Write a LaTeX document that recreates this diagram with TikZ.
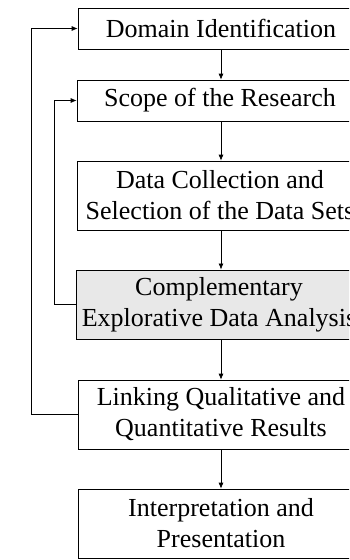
\documentclass[tikz,border=0pt]{standalone}
\usepackage{fontspec}
\setmainfont{Liberation Serif}
\usetikzlibrary{arrows.meta}
\begin{document}
\begin{tikzpicture}[x=1pt,y=-1pt,
  stage/.style={draw=black, line width=0.7pt, minimum width=286pt, inner sep=0pt,
    align=center, font=\fontsize{26}{31}\selectfont},
  short/.style={stage, minimum height=41pt},
  tall/.style={stage, minimum height=69pt},
  shaded/.style={fill=black!9, line width=0.9pt},
  flow/.style={draw=black, line width=0.7pt, -{Latex[length=6pt,width=5pt]}}]
\useasboundingbox (0,0) rectangle (349,560);
\clip (0,0) rectangle (349,560);
\fill[white] (0,0) rectangle (349,560);

\node[short] (b1) at (221,28.5) {Domain Identification};
\node[short] (b2) at (220,100.5) {Scope of the Research};
\node[tall]  (b3) at (220,195.5) {Data Collection and\\Selection of the Data Sets};
\node[tall, shaded] (b4) at (219,304.5) {Complementary\\Explorative Data Analysis};
\node[tall]  (b5) at (221,414.5) {Linking Qualitative and\\Quantitative Results};
\node[tall]  (b6) at (221,523.5) {Interpretation and\\Presentation};

\draw[flow] (b1.south -| 221,0) -- (b2.north -| 221,0);
\draw[flow] (b2.south -| 221,0) -- (b3.north -| 221,0);
\draw[flow] (b3.south -| 221,0) -- (b4.north -| 221,0);
\draw[flow] (b4.south -| 221,0) -- (b5.north -| 221,0);
\draw[flow] (b5.south -| 221,0) -- (b6.north -| 221,0);

% feedback loops on the left
\draw[flow] (b5.west) -- ++(-46,0) |- (b1.west);
\draw[flow] (b4.west) -- ++(-21,0) |- (b2.west);
\end{tikzpicture}
\end{document}
